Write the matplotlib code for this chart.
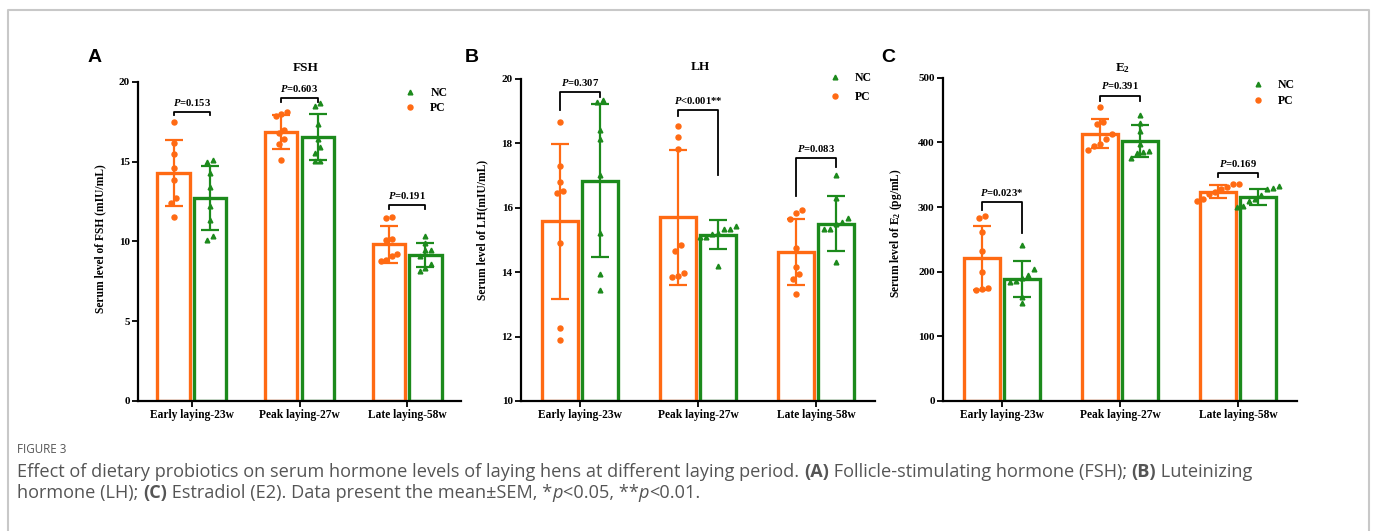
import matplotlib
matplotlib.use("Agg")
import matplotlib.pyplot as plt
from matplotlib.lines import Line2D
import numpy as np

plt.rcParams['font.family'] = 'Liberation Serif'
plt.rcParams['font.weight'] = 'bold'
plt.rcParams['mathtext.fontset'] = 'custom'
plt.rcParams['mathtext.rm'] = 'Liberation Serif:bold'
plt.rcParams['mathtext.it'] = 'Liberation Serif:italic:bold'

ORANGE = '#FF6A13'
GREEN = '#1C8A1C'

periods = ['Early laying-23w', 'Peak laying-27w', 'Late laying-58w']

# ---- FSH (mIU/mL) ----
fsh_pc_mean = [14.3, 16.87, 9.82]
fsh_pc_sd = [2.05, 1.05, 1.15]
fsh_nc_mean = [12.71, 16.55, 9.17]
fsh_nc_sd = [2.0, 1.47, 0.75]
fsh_pc_pts = [[17.5, 16.2, 15.5, 14.6, 13.85, 12.7, 12.4, 11.55],
              [17.85, 18.12, 17.97, 16.97, 16.8, 16.4, 16.13, 15.09],
              [11.54, 11.47, 10.07, 10.14, 9.2, 9.07, 8.82, 8.76]]
fsh_nc_pts = [[15.09, 15.0, 14.3, 13.4, 12.23, 11.33, 10.34, 10.09],
              [18.68, 18.52, 17.35, 16.45, 15.9, 15.55, 15.05, 15.03],
              [10.32, 9.9, 9.49, 9.49, 9.1, 8.6, 8.34, 8.15]]
fsh_p = ['=0.153', '=0.603', '=0.191']
fsh_br_top = [18.12, 19.02, 12.31]
fsh_br_left = [17.93, 18.75, 12.04]
fsh_br_right = [17.93, 18.75, 12.04]

# ---- LH (mIU/mL) ----
lh_pc_mean = [15.58, 15.70, 14.63]
lh_pc_sd = [2.4, 2.1, 1.02]
lh_nc_mean = [16.84, 15.16, 15.5]
lh_nc_sd = [2.36, 0.45, 0.85]
lh_pc_pts = [[18.67, 17.28, 16.79, 16.53, 16.46, 14.91, 12.26, 11.9],
             [18.53, 18.19, 17.83, 14.84, 14.66, 13.97, 13.89, 13.84],
             [15.92, 15.82, 15.66, 14.75, 14.15, 13.93, 13.77, 13.32]]
lh_nc_pts = [[19.34, 19.29, 18.41, 18.14, 17.01, 15.2, 13.93, 13.45],
             [15.43, 15.35, 15.35, 15.21, 15.08, 15.08, 15.19, 14.2],
             [17.0, 16.29, 15.67, 15.54, 15.34, 15.34, 14.31, 15.5]]
lh_p = ['=0.307', '<0.001**', '=0.083']
lh_br_top = [19.59, 19.02, 17.54]
lh_br_left = [19.03, 18.84, 16.37]
lh_br_right = [19.44, 17.01, 17.26]

# ---- E2 (pg/mL) ----
e2_pc_mean = [221.6, 413.4, 323.7]
e2_pc_sd = [49.5, 22.7, 10.0]
e2_nc_mean = [188.7, 402.0, 315.5]
e2_nc_sd = [28.0, 24.5, 12.6]
e2_pc_pts = [[286, 282.5, 261.3, 231.4, 200, 174.7, 172.7, 171.1],
             [455.2, 431.4, 427.8, 413.4, 405.7, 396.9, 393.8, 388.7],
             [335, 335, 331, 327.8, 323.7, 320.6, 312.9, 309.3]]
e2_nc_pts = [[241.8, 204.6, 194.8, 189.7, 186.1, 184, 161.3, 151],
             [442.3, 429.4, 417.5, 396.9, 386.6, 385.6, 383, 375.3],
             [332, 329.9, 327.8, 319.1, 312.4, 309.3, 301.5, 299.5]]
e2_p = ['=0.023*', '=0.391', '=0.169']
e2_br_top = [307.2, 472.2, 353]
e2_br_left = [295.4, 463.9, 345.9]
e2_br_right = [259.3, 463.9, 345.9]

W, H = 1375, 531
fig = plt.figure(figsize=(W / 100, H / 100), dpi=100)


def swarm(vals, thr, step):
    vals = np.asarray(vals, float)
    order = np.argsort(vals)
    offs = np.zeros(len(vals))
    groups, cur = [], [order[0]]
    for i in order[1:]:
        if vals[i] - vals[cur[-1]] < thr:
            cur.append(i)
        else:
            groups.append(cur)
            cur = [i]
    groups.append(cur)
    for g in groups:
        n = len(g)
        for k, idx in enumerate(g):
            offs[idx] = (k - (n - 1) / 2) * step
    return offs


def panel(rect, pc_mean, pc_sd, nc_mean, nc_sd, pc_pts, nc_pts, ylim, yticks,
          title, ylabel, ylab_xy, title_xy, pvals, br_top, br_left, br_right,
          leg_anchor, leg_spacing, letter, letter_xy):
    ax = fig.add_axes(rect)
    x = np.arange(3)
    w = 0.30
    off = 0.17
    yr = ylim[1] - ylim[0]
    for xs, mean, sd, pts, col, mk in [(x - off, pc_mean, pc_sd, pc_pts, ORANGE, 'o'),
                                       (x + off, nc_mean, nc_sd, nc_pts, GREEN, '^')]:
        ax.bar(xs, np.array(mean) - ylim[0], w, bottom=ylim[0], color='white',
               edgecolor=col, linewidth=2.4, zorder=2)
        ax.errorbar(xs, mean, yerr=sd, fmt='none', ecolor=col, elinewidth=1.6,
                    capsize=6.5, capthick=1.6, zorder=3)
        for xi, p in zip(xs, pts):
            o = swarm(p, 0.02 * yr, 0.05)
            ax.plot(xi + o, p, linestyle='none', marker=mk, color=col,
                    markersize=3.6 if mk == 'o' else 3.4, zorder=4)
    # significance brackets
    for i in range(3):
        x1, x2 = i - off, i + off
        ax.plot([x1, x1, x2, x2], [br_left[i], br_top[i], br_top[i], br_right[i]],
                color='black', linewidth=1.3, zorder=5)
        ax.text(i, br_top[i] + 0.03 * yr, '$P$' + pvals[i], ha='center',
                va='center', fontsize=7.7, fontweight='bold')
    ax.set_xlim(-0.5, 2.5)
    ax.set_ylim(*ylim)
    ax.set_yticks(yticks)
    ax.set_xticks(x)
    ax.set_xticklabels(periods, fontsize=8.3, fontweight='bold')
    ax.tick_params(axis='y', labelsize=8.0, width=1.3, length=4, direction='out', pad=2)
    ax.tick_params(axis='x', width=1.3, length=4, direction='out', pad=2)
    for lab in ax.get_yticklabels():
        lab.set_fontweight('bold')
    for s in ['top', 'right']:
        ax.spines[s].set_visible(False)
    for s in ['left', 'bottom']:
        ax.spines[s].set_linewidth(1.6)
    ax.set_ylabel(ylabel, fontsize=8.3, fontweight='bold')
    ax.yaxis.set_label_coords(*ylab_xy)
    ax.text(title_xy[0], title_xy[1], title, transform=ax.transAxes, ha='center',
            va='center', fontsize=9.5, fontweight='bold')
    handles = [Line2D([], [], linestyle='none', marker='^', color=GREEN, markersize=3.4),
               Line2D([], [], linestyle='none', marker='o', color=ORANGE, markersize=3.6)]
    ax.legend(handles, ['NC', 'PC'], loc='upper left', bbox_to_anchor=leg_anchor,
              frameon=False, prop={'family': 'Liberation Serif', 'weight': 'bold', 'size': 8.5},
              handlelength=1.0, handletextpad=1.2, labelspacing=leg_spacing, borderaxespad=0)
    fig.text(letter_xy[0] / W, 1 - letter_xy[1] / H, letter, family='Liberation Sans',
             fontweight='bold', fontsize=14, ha='center', va='center')
    return ax


def frect(l, r, t, b):
    return [l / W, 1 - b / H, (r - l) / W, (b - t) / H]


panel(frect(138, 461, 82, 401), fsh_pc_mean, fsh_pc_sd, fsh_nc_mean, fsh_nc_sd,
      fsh_pc_pts, fsh_nc_pts, (0, 20), [0, 5, 10, 15, 20], 'FSH',
      'Serum level of FSH (mIU/mL)', (-0.098, 0.51), (0.52, 1.044),
      fsh_p, fsh_br_top, fsh_br_left, fsh_br_right, (0.81, 1.0), 0.3, 'A', (95, 58))

panel(frect(521, 875, 78.7, 401), lh_pc_mean, lh_pc_sd, lh_nc_mean, lh_nc_sd,
      lh_pc_pts, lh_nc_pts, (10, 20), [10, 12, 14, 16, 18, 20], 'LH',
      'Serum level of LH(mIU/mL)', (-0.093, 0.53), (0.506, 1.036),
      lh_p, lh_br_top, lh_br_left, lh_br_right, (0.857, 1.035), 0.6, 'B', (472, 58))

panel(frect(943, 1297, 77.7, 401), e2_pc_mean, e2_pc_sd, e2_nc_mean, e2_nc_sd,
      e2_pc_pts, e2_nc_pts, (0, 500), [0, 100, 200, 300, 400, 500], 'E$_2$',
      'Serum level of E$_2$ (pg/mL)', (-0.11, 0.52), (0.506, 1.03),
      e2_p, e2_br_top, e2_br_left, e2_br_right, (0.86, 1.01), 0.3, 'C', (888, 58))

# outer frame (open at the bottom)
fig.add_artist(Line2D([8 / W, 8 / W, 1369 / W, 1369 / W], [0, 1 - 10 / H, 1 - 10 / H, 0],
                      transform=fig.transFigure, color='#c8c8c8', linewidth=1.5))

# caption
renderer = fig.canvas.get_renderer()
CAP = dict(family='Open Sans', color='#555555', va='baseline', ha='left',
           fontweight='normal')
B = {'fontweight': 'bold'}
I = {'style': 'italic'}
line1 = [('Effect of dietary probiotics on serum hormone levels of laying hens at different laying period. ', {}),
         ('(A)', B), (' Follicle-stimulating hormone (FSH); ', {}), ('(B)', B), (' Luteinizing', {})]
line2 = [('hormone (LH); ', {}), ('(C)', B), (' Estradiol (E2). Data present the mean\u00b1SEM, *', {}),
         ('p', I), ('<0.05, **', {}), ('p', I), ('<0.01.', {})]


def rich(x, y, parts, size):
    texts = []
    for txt, extra in parts:
        kw = dict(CAP)
        kw.update(extra)
        t = fig.text(x / W, 1 - y / H, txt, fontsize=size, **kw)
        x += t.get_window_extent(renderer=renderer).width
        texts.append(t)
    return texts, x


# fit the first caption line to the width it takes in the original
tmp, xend = rich(17, 477, line1, 10.0)
for t in tmp:
    t.remove()
cap_size = 10.0 * (1258 - 17) / (xend - 17)
rich(17, 477, line1, cap_size)
rich(17, 498, line2, cap_size)
fig.text(17 / W, 1 - 453 / H, 'FIGURE 3', family='Open Sans', fontsize=8.4,
         color='#555555', va='baseline', ha='left', fontweight='normal')

fig.savefig('out.png', dpi=100)
